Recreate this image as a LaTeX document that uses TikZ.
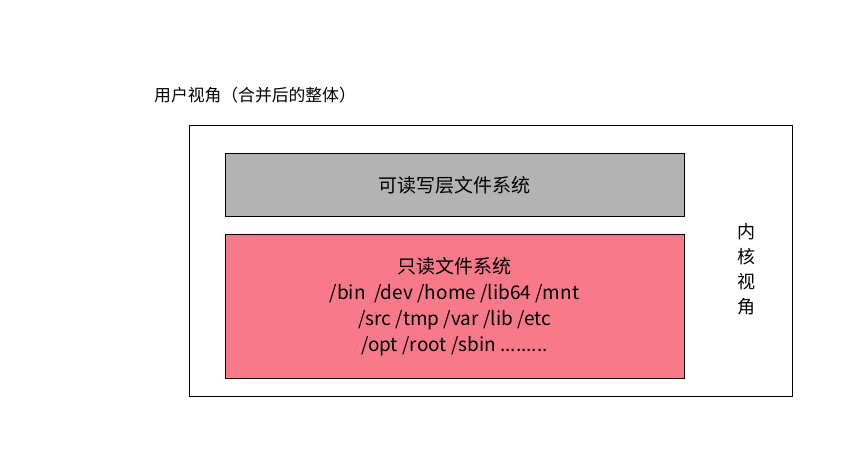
\documentclass[tikz,border=0pt]{standalone}
\usepackage{fontspec}
\setmainfont{Noto Sans CJK SC}
\definecolor{graybox}{HTML}{B3B3B3}
\definecolor{pinkbox}{HTML}{F7798A}
\begin{document}
\begin{tikzpicture}[x=1pt,y=-1pt,
  boxstyle/.style={draw=black,line width=1pt},
  txt/.style={inner sep=0pt,align=center,font=\fontsize{19}{26}\selectfont}]
\useasboundingbox[fill=white] (0,0) rectangle (864,468);
\node[anchor=west,inner sep=0pt,font=\fontsize{16.8}{20}\selectfont] (title) at (154,95) {用户视角（合并后的整体）};
\draw[boxstyle] (189,126) rectangle (792,396);
\draw[boxstyle,fill=graybox] (225,153) rectangle (684,216);
\node[txt,font=\fontsize{19}{26}\selectfont] (rw) at (454.5,185) {可读写层文件系统};
\draw[boxstyle,fill=pinkbox] (225,234) rectangle (684,378);
\node[txt] (ro) at (454.5,307) {只读文件系统\\/bin\ \ /dev /home /lib64 /mnt\\/src /tmp /var /lib /etc\\/opt /root /sbin .........};
\node[txt,font=\fontsize{18}{25}\selectfont] (kernel) at (746,269) {内\\核\\视\\角};
\end{tikzpicture}
\end{document}
